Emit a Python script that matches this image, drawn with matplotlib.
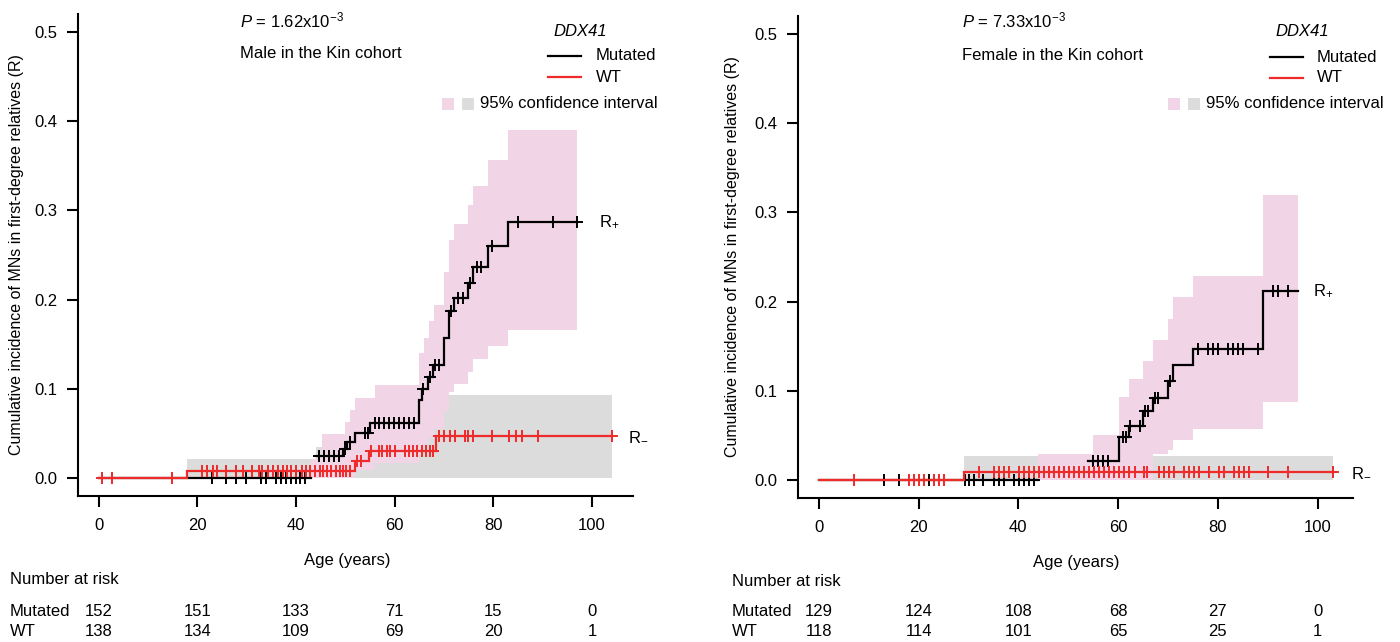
import numpy as np
import matplotlib
matplotlib.use('Agg')
import matplotlib.pyplot as plt
from matplotlib.lines import Line2D
from matplotlib.patches import Rectangle
from matplotlib.transforms import blended_transform_factory

plt.rcParams['font.family'] = ['Liberation Sans', 'DejaVu Sans']
plt.rcParams['mathtext.fontset'] = 'custom'
plt.rcParams['mathtext.rm'] = 'Liberation Sans'
plt.rcParams['mathtext.it'] = 'Liberation Sans:italic'
plt.rcParams['mathtext.bf'] = 'Liberation Sans:bold'

# ---------------- data: male panel ----------------
male_mut_t = [0, 44.0, 49.6, 50.4, 51.9, 55.0, 65.0, 65.5, 66.8, 67.8, 70.0, 71.0, 72.0, 74.9, 75.9, 79.0, 83.0]
male_mut_y = [0, 0.0247, 0.0326, 0.0408, 0.0509, 0.0614, 0.0876, 0.0997, 0.113, 0.127, 0.157, 0.187, 0.202, 0.219, 0.237, 0.260, 0.287]
male_mut_end = 97.0
male_mut_cens = [23.0, 25.9, 27.8, 29.8, 33.0, 34.0, 36.0, 37.0, 38.0, 38.9, 40.0, 40.8, 41.8,
                 44.7, 45.7, 46.7, 47.7, 48.7, 50.0, 50.9, 54.0, 54.6,
                 56.0, 56.9, 57.9, 58.9, 59.9, 60.9, 61.9, 62.9, 64.0,
                 65.8, 67.2, 68.2, 68.9, 71.5, 72.9, 73.8, 75.3, 76.7, 77.6, 79.7, 85.0, 92.0, 97.0]
male_mut_ci_t = [43.1, 45.2, 49.9, 50.9, 51.9, 56.0, 65.0, 66.0, 67.0, 68.0, 70.0, 71.0, 72.0, 74.9, 75.9, 79.0, 83.0, 97.0]
male_mut_ci_lo = [0, 0, 0, 0, 0.009, 0.0165, 0.030, 0.038, 0.045, 0.055, 0.075, 0.096, 0.106, 0.119, 0.133, 0.148, 0.1655, 0.1655]
male_mut_ci_hi = [0.022, 0.050, 0.063, 0.0764, 0.0895, 0.1045, 0.140, 0.157, 0.176, 0.194, 0.231, 0.267, 0.285, 0.306, 0.327, 0.356, 0.390, 0.390]

male_wt_t = [0, 18.0, 51.9, 54.8, 68.4]
male_wt_y = [0, 0.008, 0.019, 0.030, 0.047]
male_wt_end = 104.0
male_wt_cens = [0.7, 2.8, 14.9,
                21.0, 22.0, 23.1, 24.1, 25.9, 27.9, 29.2, 31.0, 32.5, 33.2, 34.3, 35.4, 36.4, 37.3, 38.1,
                39.1, 40.1, 41.3, 42.1, 42.8, 43.8, 44.8, 45.5, 46.2, 47.2, 48.2, 48.9, 49.6, 50.2, 50.9,
                52.4, 53.2,
                55.3, 56.9, 57.5, 58.4, 59.0, 60.0, 62.1, 62.9, 63.8, 64.6, 65.5, 66.3, 67.1, 67.8,
                68.9, 70.0, 71.2, 72.3, 74.2, 74.9, 75.9, 79.8, 83.1, 84.6, 85.8, 89.1, 104.0]
male_wt_ci_t = [18.0, 44.0, 52.0, 55.0, 68.4, 104.0]
male_wt_ci_lo = [0, 0, 0, 0, 0, 0]
male_wt_ci_hi = [0.021, 0.035, 0.045, 0.060, 0.093, 0.093]

male_risk_mut = ['152', '151', '133', '71', '15', '0']
male_risk_wt = ['138', '134', '109', '69', '20', '1']

# ---------------- data: female panel ----------------
fem_mut_t = [0, 54.0, 60.1, 62.1, 65.1, 67.1, 70.1, 71.1, 75.0, 89.0]
fem_mut_y = [0, 0.022, 0.048, 0.061, 0.077, 0.092, 0.111, 0.129, 0.147, 0.212]
fem_mut_end = 96.0
fem_mut_cens = [13.0, 16.0, 22.1, 29.3, 30.1, 31.1, 33.0, 35.1, 36.1, 37.1, 39.2, 40.2, 41.2, 42.2, 43.2,
                54.9, 55.9, 56.9, 57.9, 60.9, 61.6, 62.4, 64.3, 65.5, 66.1, 67.5, 68.0, 70.4,
                76.0, 78.0, 79.0, 80.0, 82.0, 83.0, 84.0, 85.0, 88.0, 91.1, 92.1, 94.0]
fem_mut_ci_t = [44.0, 55.0, 60.1, 62.1, 65.1, 67.1, 70.1, 71.1, 75.0, 89.0, 96.0]
fem_mut_ci_lo = [0, 0, 0, 0, 0, 0.029, 0.034, 0.0445, 0.057, 0.0874, 0.0874]
fem_mut_ci_hi = [0.0288, 0.051, 0.093, 0.113, 0.134, 0.157, 0.180, 0.2055, 0.229, 0.319, 0.319]

fem_wt_t = [0, 29.1]
fem_wt_y = [0, 0.009]
fem_wt_end = 103.0
fem_wt_cens = [7.0, 18.1, 19.1, 20.1, 21.1, 23.1, 24.1, 25.1,
               32.1, 35.1, 36.1, 37.1, 38.2, 40.2, 41.2, 42.2, 43.2, 44.2, 45.2, 46.2, 47.2, 48.2, 49.2,
               50.2, 51.2, 52.2, 53.2, 54.2, 55.2, 56.2, 57.2, 58.2, 59.2, 60.2, 61.2, 62.2, 63.3, 65.3,
               65.9, 68.3, 69.3, 70.3, 71.3, 73.3, 74.3, 75.3, 76.3, 78.3, 80.3, 81.3, 83.3, 84.3, 85.3,
               86.3, 90.0, 94.0, 103.0]
fem_wt_ci_t = [29.1, 103.0]
fem_wt_ci_lo = [0, 0]
fem_wt_ci_hi = [0.027, 0.027]

fem_risk_mut = ['129', '124', '108', '68', '27', '0']
fem_risk_wt = ['118', '114', '101', '65', '25', '1']

risk_ages = [0, 20, 40, 60, 80, 100]

# ---------------- style ----------------
PINK = '#F1D4E6'
GRAY = '#DCDCDC'
RED = '#EE2A2A'
BLACK = '#000000'
FS = 12

W, H = 1400, 642
fig = plt.figure(figsize=(14, 6.42), dpi=100)


def fx(px):
    return px / W


def fy(py):
    return 1 - py / H


def step_eval(t, y, x):
    t = np.asarray(t, float)
    y = np.asarray(y, float)
    idx = np.searchsorted(t, np.asarray(x, float), side='right') - 1
    return y[idx]


def draw_curve(ax, t, y, t_end, color, z, gap_start=None):
    tt = np.append(np.asarray(t, float), t_end)
    yy = np.append(np.asarray(y, float), y[-1])
    if gap_start is None:
        ax.step(tt, yy, where='post', color=color, lw=1.6, zorder=z, solid_joinstyle='miter')
    else:
        k = int(np.argmax(yy > 0))
        ax.plot([tt[0], gap_start], [0, 0], color=color, lw=1.6, zorder=z)
        ax.step(tt[k:], yy[k:], where='post', color=color, lw=1.6, zorder=z, solid_joinstyle='miter')


def draw_cens(ax, t, y, cens, color, z):
    ax.plot(cens, step_eval(t, y, cens), ls='none', marker='+', ms=8, mew=1.4,
            color=color, zorder=z)


def setup_axes(ax, xmax):
    ax.set_xlim(-4.16, xmax)
    ax.set_ylim(-0.02, 0.52)
    for s in ['top', 'right']:
        ax.spines[s].set_visible(False)
    for s in ['left', 'bottom']:
        ax.spines[s].set_linewidth(1.5)
    ax.set_xticks([0, 20, 40, 60, 80, 100])
    ax.set_yticks([0, 0.1, 0.2, 0.3, 0.4, 0.5])
    ax.set_yticklabels(['0.0', '0.1', '0.2', '0.3', '0.4', '0.5'])
    ax.tick_params(axis='x', length=8, width=1.5, pad=8, labelsize=FS)
    ax.tick_params(axis='y', length=8, width=1.5, pad=7, labelsize=FS)


def panel(ax, mut_t, mut_y, mut_end, mut_cens, mci_t, mci_lo, mci_hi, gap_start,
          wt_t, wt_y, wt_end, wt_cens, wci_t, wci_lo, wci_hi, rplus_x, rminus_x):
    ax.fill_between(wci_t, wci_lo, wci_hi, step='post', color=GRAY, lw=0, zorder=1)
    ax.fill_between(mci_t, mci_lo, mci_hi, step='post', color=PINK, lw=0, zorder=1.5)
    draw_curve(ax, mut_t, mut_y, mut_end, BLACK, 3, gap_start=gap_start)
    draw_cens(ax, mut_t, mut_y, mut_cens, BLACK, 3)
    draw_curve(ax, wt_t, wt_y, wt_end, RED, 4)
    draw_cens(ax, wt_t, wt_y, wt_cens, RED, 4)
    ax.text(rplus_x, mut_y[-1], r'R$_{+}$', fontsize=FS, va='center', ha='left')
    ax.text(rminus_x, wt_y[-1], r'R$_{-}$', fontsize=FS, va='center', ha='left')


def legend(x_text, y_mut, y_wt, x_line0, x_line1, y_ddx, x_ddx, x_sq_pink, x_sq_gray, y_ci, x_ci):
    fig.text(fx(x_ddx), fy(y_ddx), 'DDX41', fontsize=FS, style='italic', ha='center', va='center')
    fig.add_artist(Line2D([fx(x_line0), fx(x_line1)], [fy(y_mut), fy(y_mut)], color=BLACK, lw=1.6))
    fig.add_artist(Line2D([fx(x_line0), fx(x_line1)], [fy(y_wt), fy(y_wt)], color=RED, lw=1.6))
    fig.text(fx(x_text), fy(y_mut), 'Mutated', fontsize=FS, va='center')
    fig.text(fx(x_text), fy(y_wt), 'WT', fontsize=FS, va='center')
    sq = 12
    fig.add_artist(Rectangle((fx(x_sq_pink), fy(y_ci + sq / 2)), sq / W, sq / H,
                             transform=fig.transFigure, color=PINK, lw=0))
    fig.add_artist(Rectangle((fx(x_sq_gray), fy(y_ci + sq / 2)), sq / W, sq / H,
                             transform=fig.transFigure, color=GRAY, lw=0))
    fig.text(fx(x_ci), fy(y_ci), '95% confidence interval', fontsize=FS, va='center')


def risk_table(ax, x_left, y_head, y_mut, y_wt, mut_vals, wt_vals):
    fig.text(fx(x_left), fy(y_head), 'Number at risk', fontsize=FS, va='center')
    fig.text(fx(x_left), fy(y_mut), 'Mutated', fontsize=FS, va='center')
    fig.text(fx(x_left), fy(y_wt), 'WT', fontsize=FS, va='center')
    tr = blended_transform_factory(ax.transData, fig.transFigure)
    for a, m, w in zip(risk_ages, mut_vals, wt_vals):
        fig.text(a, fy(y_mut), m, fontsize=FS, va='center', ha='center', transform=tr)
        fig.text(a, fy(y_wt), w, fontsize=FS, va='center', ha='center', transform=tr)


# ---------------- left panel ----------------
axL = fig.add_axes([fx(78), fy(496), fx(633) - fx(78), fy(14) - fy(496)])
setup_axes(axL, 108.3)
panel(axL, male_mut_t, male_mut_y, male_mut_end, male_mut_cens,
      male_mut_ci_t, male_mut_ci_lo, male_mut_ci_hi, 43.1,
      male_wt_t, male_wt_y, male_wt_end, male_wt_cens,
      male_wt_ci_t, male_wt_ci_lo, male_wt_ci_hi, 101.4, 107.2)
fig.text(fx(17), fy(255), 'Cumulative incidence of MNs in first-degree relatives (R)',
         rotation=90, fontsize=11.5, ha='center', va='center')
fig.text(fx(240), fy(20), r'$\it{P}$ = 1.62x10$^{-3}$', fontsize=FS, va='center')
fig.text(fx(240), fy(53), 'Male in the Kin cohort', fontsize=FS, va='center')
legend(596, 56, 77, 548, 581, 31, 580, 442, 462, 104, 480)
fig.text(fx(347), fy(560), 'Age (years)', fontsize=FS, ha='center', va='center')
risk_table(axL, 10, 580, 611, 632, male_risk_mut, male_risk_wt)

# ---------------- right panel ----------------
axR = fig.add_axes([fx(798), fy(498), fx(1353) - fx(798), fy(16) - fy(498)])
setup_axes(axR, 107.1)
panel(axR, fem_mut_t, fem_mut_y, fem_mut_end, fem_mut_cens,
      fem_mut_ci_t, fem_mut_ci_lo, fem_mut_ci_hi, 44.0,
      fem_wt_t, fem_wt_y, fem_wt_end, fem_wt_cens,
      fem_wt_ci_t, fem_wt_ci_lo, fem_wt_ci_hi, 99.0, 106.6)
fig.text(fx(733), fy(257), 'Cumulative incidence of MNs in first-degree relatives (R)',
         rotation=90, fontsize=11.5, ha='center', va='center')
fig.text(fx(962), fy(20), r'$\it{P}$ = 7.33x10$^{-3}$', fontsize=FS, va='center')
fig.text(fx(962), fy(55), 'Female in the Kin cohort', fontsize=FS, va='center')
legend(1317, 57, 78, 1270, 1303, 32, 1302, 1168, 1188, 104, 1206)
fig.text(fx(1076), fy(562), 'Age (years)', fontsize=FS, ha='center', va='center')
risk_table(axR, 732, 582, 611, 632, fem_risk_mut, fem_risk_wt)

fig.savefig('out.png', dpi=100)
